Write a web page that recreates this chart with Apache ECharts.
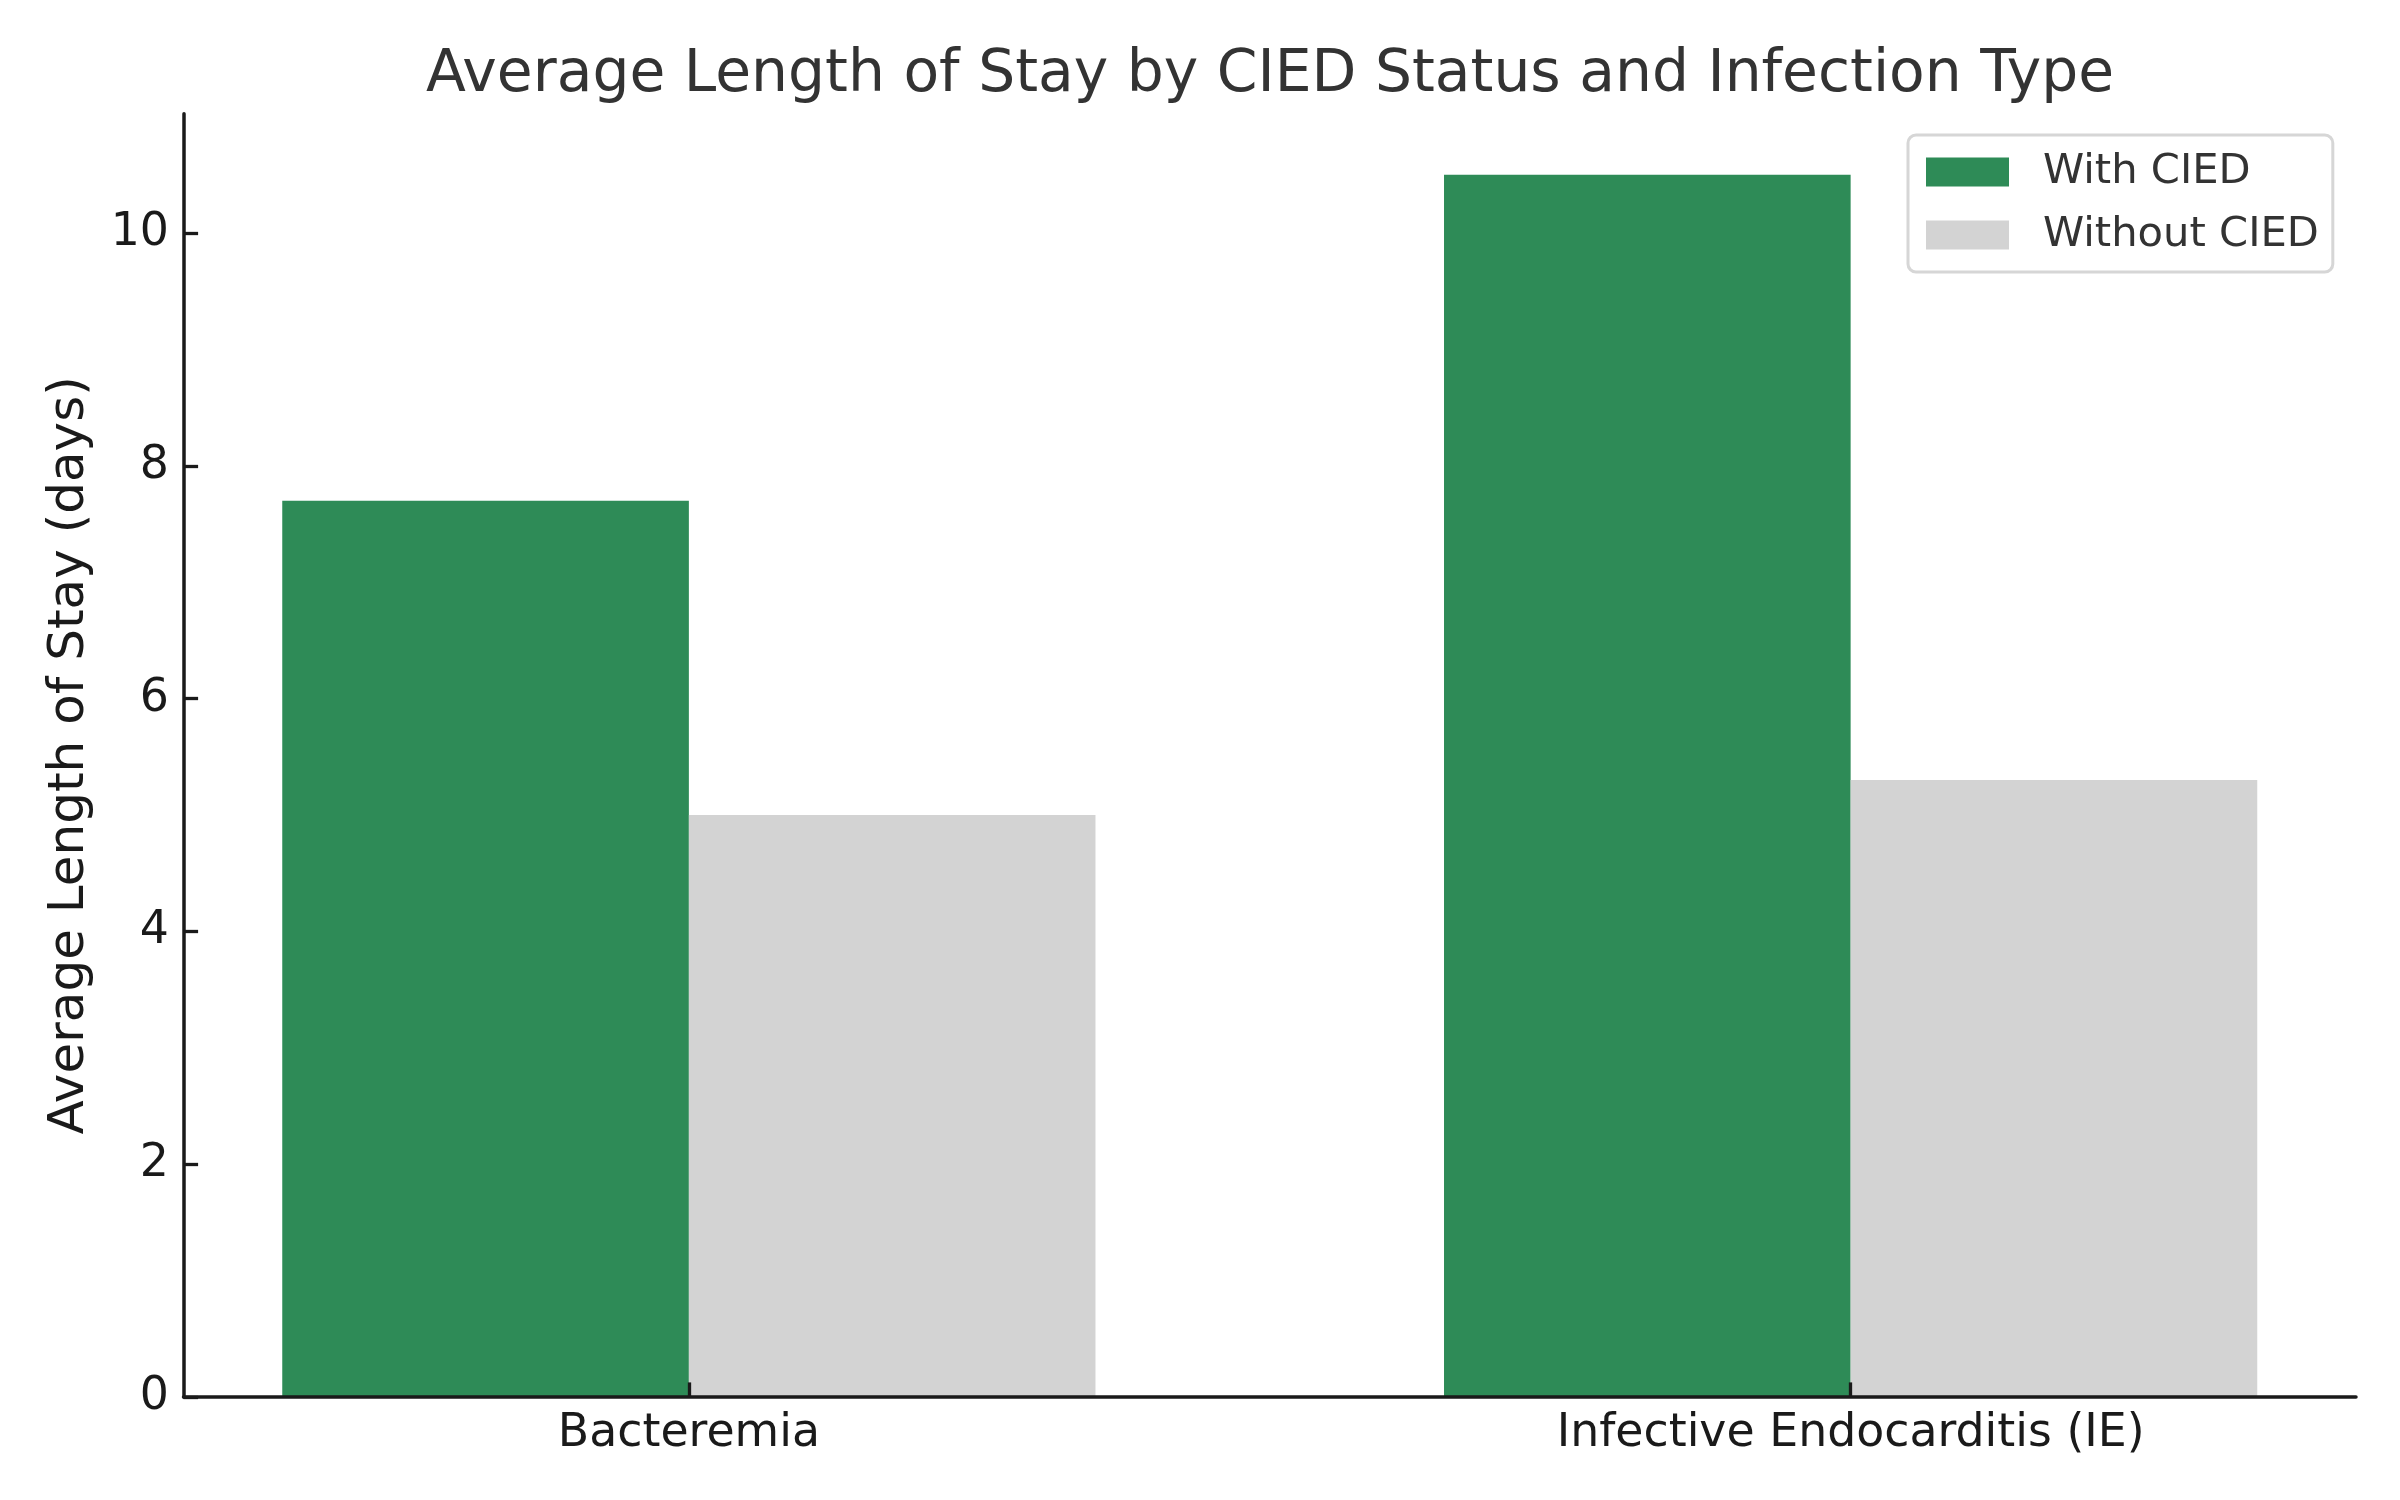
<!DOCTYPE html>
<html>
<head>
<meta charset="utf-8">
<script src="https://cdn.jsdelivr.net/npm/echarts@6/dist/echarts.min.js"></script>
<style>
html,body{margin:0;padding:0;background:#fff;}
#c{width:2400px;height:1500px;}
</style>
</head>
<body>
<div id="c"></div>
<script>
const categories = ['Bacteremia', 'Infective Endocarditis (IE)'];
const seriesNames = ['With CIED', 'Without CIED'];
const withCIED = [7.7, 10.5];
const withoutCIED = [5.0, 5.3];
const yTicks = [0, 2, 4, 6, 8, 10];

const FONT = 'DejaVu Sans';
const BAR_W = 0.35;

function makeSeries(name, values, offset, color) {
  return {
    name: name,
    type: 'custom',
    z: 2,
    itemStyle: { color: color },
    data: values.map((v, i) => [i, v]),
    encode: { x: 0, y: 1 },
    renderItem: function (params, api) {
      const c = api.value(0) + offset;
      const v = api.value(1);
      const p0 = api.coord([c - BAR_W / 2, v]);
      const p1 = api.coord([c + BAR_W / 2, 0]);
      return {
        type: 'rect',
        shape: { x: p0[0], y: p0[1], width: p1[0] - p0[0], height: p1[1] - p0[1] },
        style: { fill: color }
      };
    }
  };
}

const chart = echarts.init(document.getElementById('c'), null, { renderer: 'canvas' });
chart.setOption({
  backgroundColor: '#ffffff',
  animation: false,
  title: {
    text: 'Average Length of Stay by CIED Status and Infection Type',
    left: 1270,
    textAlign: 'center',
    top: 47,
    padding: 0,
    textStyle: { fontFamily: FONT, fontSize: 58.3, fontWeight: 'normal', color: '#333333', lineHeight: 58 }
  },
  legend: {
    orient: 'vertical',
    left: 1908,
    top: 135,
    padding: [16, 14, 16, 18],
    itemWidth: 83,
    itemHeight: 29,
    itemGap: 21,
    icon: 'rect',
    borderColor: '#d6d6d6',
    borderWidth: 3,
    borderRadius: 8,
    backgroundColor: '#ffffff',
    textStyle: { fontFamily: FONT, fontSize: 41.67, color: '#333333', padding: [0, 0, 0, 29], lineHeight: 42 },
    data: seriesNames
  },
  grid: { left: 183.5, right: 44, top: 113.7, bottom: 103, containLabel: false },
  xAxis: {
    type: 'value',
    min: -0.435,
    max: 1.435,
    z: 10,
    splitLine: { show: false },
    axisLine: { show: true, onZero: false, lineStyle: { color: '#1a1a1a', width: 3.5 } },
    axisTick: { show: true, inside: true, length: 14.6, lineStyle: { color: '#1a1a1a', width: 3.3 }, customValues: [0, 1] },
    axisLabel: {
      show: true, margin: 14.6, fontFamily: FONT, fontSize: 45.8, color: '#1a1a1a',
      customValues: [0, 1],
      formatter: function (v) { return categories[Math.round(v)]; }
    }
  },
  yAxis: {
    type: 'value',
    min: 0,
    max: 11.025,
    z: 10,
    name: 'Average Length of Stay (days)',
    nameLocation: 'middle',
    nameGap: 88,
    nameTextStyle: { fontFamily: FONT, fontSize: 50, color: '#1a1a1a' },
    splitLine: { show: false },
    axisLine: { show: true, onZero: false, lineStyle: { color: '#1a1a1a', width: 3.5 } },
    axisTick: { show: true, inside: true, length: 14.6, lineStyle: { color: '#1a1a1a', width: 3.3 }, customValues: yTicks },
    axisLabel: { show: true, margin: 14.6, fontFamily: FONT, fontSize: 45.8, color: '#1a1a1a', customValues: yTicks }
  },
  series: [
    makeSeries(seriesNames[0], withCIED, -BAR_W / 2, '#2e8b57'),
    makeSeries(seriesNames[1], withoutCIED, BAR_W / 2, '#d3d3d3')
  ]
});
</script>
</body>
</html>
